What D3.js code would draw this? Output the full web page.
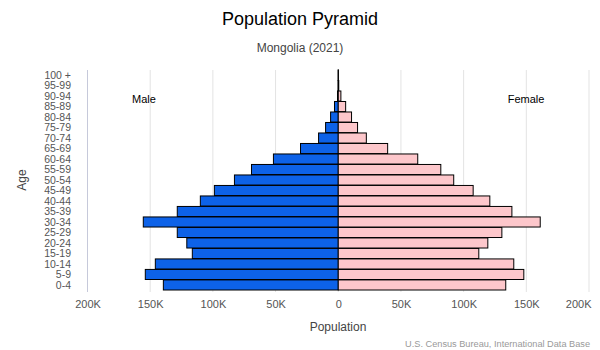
<!DOCTYPE html>
<html><head><meta charset="utf-8">
<script src="https://cdn.jsdelivr.net/npm/d3@7"></script>
<style>body{margin:0;background:#fff;} text{font-family:"Liberation Sans",Arial,sans-serif;}</style>
</head><body><svg id="c" width="600" height="350"></svg>
<script>
const ageGroups = ["0-4","5-9","10-14","15-19","20-24","25-29","30-34","35-39","40-44","45-49","50-54","55-59","60-64","65-69","70-74","75-79","80-84","85-89","90-94","95-99","100 +"];
const maleValues = [139.5,153.9,145.9,116.4,120.8,128.4,155.5,128.4,110.0,98.8,82.8,69.2,51.7,30.1,15.7,10.1,6.1,3.0,0.6,0.1,0.05];
const femaleValues = [133.6,148.0,140.0,112.1,119.3,130.5,161.1,138.5,120.9,107.6,92.1,81.8,63.4,39.4,22.4,15.4,10.6,5.9,2.1,0.4,0.1];
const xTicks = [-200,-150,-100,-50,0,50,100,150,200];
const tickLabels = ["200K","150K","100K","50K","0","50K","100K","150K","200K"];

const svg = d3.select("#c");
const x = d3.scaleLinear().domain([-200,200]).range([87.5,589]);
const y = d3.scaleBand().domain(ageGroups).range([290,70]).paddingInner(0.04);

// gridlines
svg.append("g").selectAll("line").data(xTicks).join("line")
  .attr("x1",d=>x(d)).attr("x2",d=>x(d)).attr("y1",70).attr("y2",292)
  .attr("stroke",(d,i)=>i===0?"#c6c9da":"#e3e3e3").attr("stroke-width",1);

// x axis labels
const xAxis = d3.axisBottom(x).tickValues(xTicks).tickFormat((d,i)=>tickLabels[i]).tickSize(0).tickPadding(0);
const gx = svg.append("g").attr("transform","translate(0,300)").call(xAxis);
gx.select(".domain").remove();
gx.selectAll("text").attr("fill","#555").attr("font-size","11px").attr("dy","0.71em")
  .style("font-family","'Liberation Sans',Arial,sans-serif");
gx.selectAll(".tick").filter((d,i)=>i===xTicks.length-1).select("text").attr("text-anchor","end").attr("dx","2");

// y axis labels
const yAxis = d3.axisLeft(y).tickSize(0).tickPadding(0);
const gy = svg.append("g").attr("transform","translate(71,0)").call(yAxis);
gy.select(".domain").remove();
gy.selectAll("text").attr("fill","#555").attr("font-size","10.5px").attr("dy","0.34em")
  .style("font-family","'Liberation Sans',Arial,sans-serif");

// bars
svg.append("g").selectAll("rect").data(ageGroups).join("rect")
  .attr("x",(d,i)=>x(-maleValues[i])).attr("width",(d,i)=>x(0)-x(-maleValues[i]))
  .attr("y",d=>y(d)).attr("height",y.bandwidth())
  .attr("fill","#0d62e8").attr("stroke","#000").attr("stroke-width",1);
svg.append("g").selectAll("rect").data(ageGroups).join("rect")
  .attr("x",x(0)).attr("width",(d,i)=>x(femaleValues[i])-x(0))
  .attr("y",d=>y(d)).attr("height",y.bandwidth())
  .attr("fill","#fdc7cb").attr("stroke","#000").attr("stroke-width",1);

// texts
svg.append("text").attr("x",300).attr("y",25).attr("text-anchor","middle").attr("font-size","18px").attr("fill","#000").text("Population Pyramid");
svg.append("text").attr("x",300).attr("y",52).attr("text-anchor","middle").attr("font-size","12px").attr("fill","#444").text("Mongolia (2021)");
svg.append("text").attr("x",144).attr("y",103).attr("text-anchor","middle").attr("font-size","11px").attr("fill","#000").text("Male");
svg.append("text").attr("x",526).attr("y",103).attr("text-anchor","middle").attr("font-size","11px").attr("fill","#000").text("Female");
svg.append("text").attr("transform","translate(26,180) rotate(-90)").attr("text-anchor","middle").attr("font-size","12px").attr("fill","#444").text("Age");
svg.append("text").attr("x",338).attr("y",331).attr("text-anchor","middle").attr("font-size","12px").attr("fill","#444").text("Population");
svg.append("text").attr("x",590).attr("y",347).attr("text-anchor","end").attr("font-size","9.2px").attr("fill","#999").text("U.S. Census Bureau, International Data Base");
</script></body></html>
